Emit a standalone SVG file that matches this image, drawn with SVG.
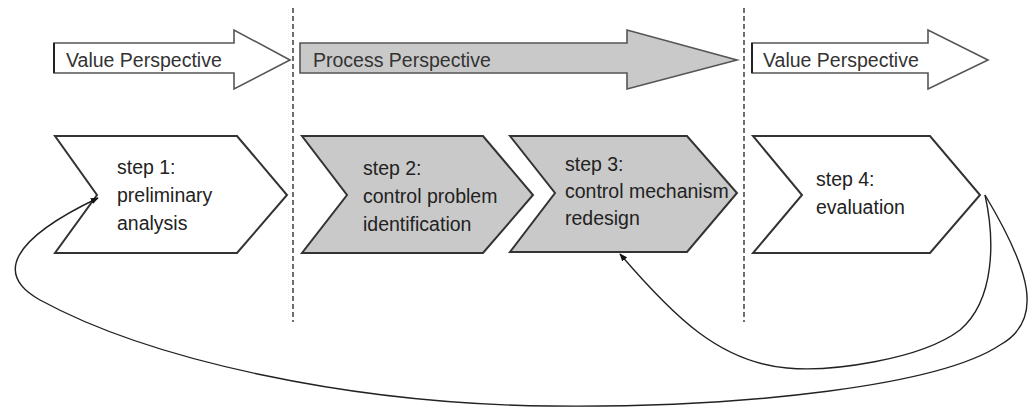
<svg xmlns="http://www.w3.org/2000/svg" width="1029" height="410" viewBox="0 0 1029 410">
<defs>
<style>
.bg{fill:#ffffff}
.arrow{stroke:#555;stroke-width:1.6;stroke-linejoin:miter}
.white{fill:#ffffff}
.grey{fill:#c9c9c9}
.chev{stroke:#333;stroke-width:2;stroke-linejoin:miter}
.divider{stroke:#222;stroke-width:1.3;stroke-dasharray:5,3;fill:none}
.conn{stroke:#222;stroke-width:1.4;fill:none}
.lbl{font-family:"Liberation Sans",Arial,sans-serif;font-size:19.5px;fill:#222}
.plbl{font-family:"Liberation Sans",Arial,sans-serif;font-size:19.5px;fill:#333}
</style>
<marker id="ah" viewBox="0 0 10 10" refX="9" refY="5" markerWidth="8" markerHeight="8" orient="auto" markerUnits="userSpaceOnUse">
<path d="M0,1 L10,5 L0,9 Z" fill="#111"/>
</marker>
</defs>
<rect class="bg" x="0" y="0" width="1029" height="410"/>

<g id="dividers">
<line class="divider" x1="293" y1="8" x2="293" y2="322"/>
<line class="divider" x1="744" y1="8" x2="744" y2="322"/>
</g>

<g id="perspective-value-1">
<path class="arrow white" d="M54,43 L234,43 L234,30 L290,60 L234,89 L234,73 L54,73 Z"/>
<line x1="54" y1="43" x2="54" y2="73" stroke="#222" stroke-width="2"/>
<text class="plbl" x="66" y="67">Value Perspective</text>
</g>
<g id="perspective-process">
<path class="arrow grey" d="M300,43 L627,43 L627,30 L737,60 L627,89 L627,73 L300,73 Z"/>
<text class="plbl" x="313" y="67">Process Perspective</text>
</g>
<g id="perspective-value-2">
<path class="arrow white" d="M752,43 L928,43 L928,30 L988,60 L928,89 L928,73 L752,73 Z"/>
<line x1="752" y1="43" x2="752" y2="73" stroke="#222" stroke-width="2"/>
<text class="plbl" x="763" y="67">Value Perspective</text>
</g>

<g id="step1">
<path class="chev white" d="M55,136 L237,136 L287,195 L237,253 L55,253 L97,195 Z"/>
<text class="lbl" x="117" y="174">step 1:</text>
<text class="lbl" x="117" y="202">preliminary</text>
<text class="lbl" x="117" y="230">analysis</text>
</g>
<g id="step2">
<path class="chev grey" d="M302,136 L483,136 L533,195 L483,253 L302,253 L347,195 Z"/>
<text class="lbl" x="363" y="175">step 2:</text>
<text class="lbl" x="363" y="203">control problem</text>
<text class="lbl" x="363" y="231">identification</text>
</g>
<g id="step3">
<path class="chev grey" d="M510,136 L687,136 L737,193 L687,252 L510,252 L555,193 Z"/>
<text class="lbl" x="565" y="171">step 3:</text>
<text class="lbl" x="565" y="198">control mechanism</text>
<text class="lbl" x="565" y="225">redesign</text>
</g>
<g id="step4">
<path class="chev white" d="M753,136 L930,136 L980,195 L930,253 L753,253 L802,195 Z"/>
<text class="lbl" x="816" y="186">step 4:</text>
<text class="lbl" x="816" y="214">evaluation</text>
</g>

<g id="connectors">
<path class="conn" marker-end="url(#ah)" d="M985,195 C1030,270 1045,320 1000,345 C940,385 750,408 550,406 C350,404 150,360 40,300 C-5,275 10,240 98,198"/>
<path class="conn" marker-end="url(#ah)" d="M985,195 C995,240 995,300 960,330 C920,360 830,372 787,368 C720,362 675,318 620,254"/>
</g>
</svg>
